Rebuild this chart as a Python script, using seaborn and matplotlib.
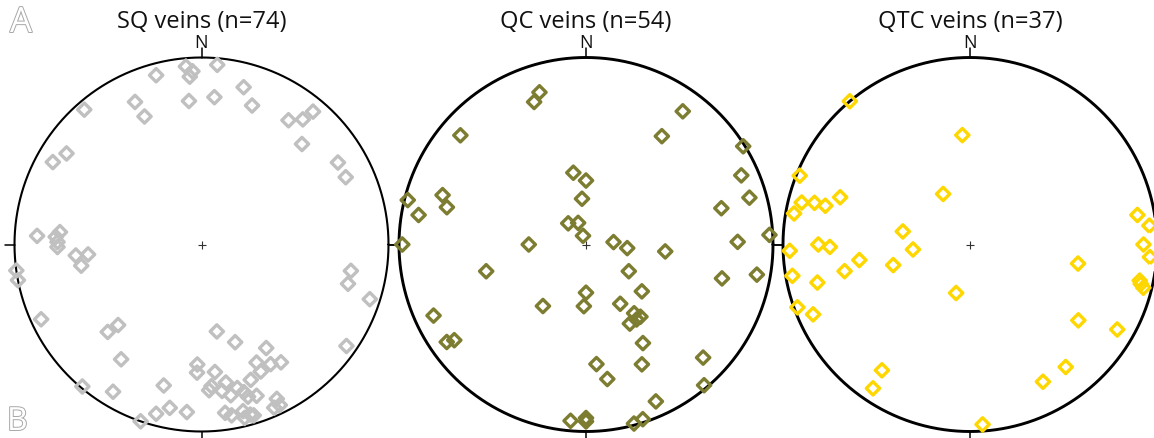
import numpy as np
import pandas as pd
import matplotlib
matplotlib.use("Agg")
import matplotlib.pyplot as plt
import matplotlib.patheffects as pe
import seaborn as sns

sns.set_theme(style="white")
plt.rcParams["font.family"] = ["Open Sans", "DejaVu Sans"]

# Poles to veins: trend (deg, clockwise from N) and plunge (deg), lower hemisphere
sq_trend = [345, 355, 357, 356, 5, 15, 5, 355, 335, 336,
            20, 319, 35, 39, 40, 45, 304, 299, 59, 65,
            273, 275, 273, 271, 269, 265, 265, 260, 262, 259,
            100, 105, 108, 245, 227, 226, 170, 161, 148, 125,
            215, 182, 182, 174, 155, 150, 146, 155, 220, 211,
            195, 191, 195, 199, 185, 160, 170, 176, 177, 166,
            172, 169, 164, 163, 160, 154, 154, 156, 172, 170,
            166, 164, 166, 163]
sq_plunge = [7, 5, 8, 11, 4, 14, 22, 24, 17, 26,
             22, 5, 20, 15, 8, 25, 14, 10, 16, 16,
             13, 25, 23, 24, 24, 33, 39, 35, 0, 0,
             20, 20, 6, 6, 32, 38, 51, 44, 35, 6,
             26, 36, 32, 32, 31, 27, 25, 26, 1, 9,
             23, 12, 7, 0, 11, 24, 26, 25, 23, 22,
             22, 19, 19, 16, 15, 9, 5, 5, 10, 8,
             9, 6, 5, 5]

qc_trend = [343, 340, 311, 36, 35, 58, 66, 74, 75, 350,
            0, 355, 284, 289, 285, 280, 320, 340, 341, 85,
            95, 95, 270, 270, 89, 87, 255, 122, 104, 100,
            180, 130, 215, 182, 150, 145, 143, 151, 146, 245,
            235, 234, 150, 134, 175, 171, 155, 140, 156, 185,
            180, 180, 165, 162]
qc_plunge = [16, 20, 12, 13, 30, 1, 10, 10, 26, 58,
             62, 70, 2, 20, 24, 10, 78, 80, 86, 78,
             72, 55, 2, 65, 20, 2, 44, 68, 26, 8,
             69, 58, 57, 63, 60, 53, 50, 50, 50, 11,
             10, 14, 39, 14, 36, 28, 30, 2, 9, 6,
             8, 6, 1, 2]

qtc_trend = [320, 356, 292, 332, 290, 284, 285, 285, 280, 80,
             84, 90, 94, 102, 104, 281, 268, 270, 269, 262,
             265, 258, 255, 260, 256, 196, 250, 246, 100, 125,
             120, 142, 152, 215, 214, 176, 103]
qtc_plunge = [0, 41, 2, 65, 27, 8, 15, 21, 5, 10,
              4, 8, 4, 8, 5, 60, 4, 20, 26, 40,
              65, 32, 55, 4, 17, 68, 2, 9, 41, 30,
              10, 18, 18, 19, 8, 4, 7]

vein_sets = ["SQ veins", "QC veins", "QTC veins"]
set_colors = ["#c0c0c0", "#7d7d32", "#ffd700"]
circle_widths = [1.5, 2.1, 2.1]


def equal_area(trend, plunge):
    """Lambert (Schmidt) lower-hemisphere projection, unit primitive circle."""
    t = np.radians(np.asarray(trend, float))
    p = np.radians(np.asarray(plunge, float))
    r = np.sqrt(2.0) * np.sin((np.pi / 2 - p) / 2)
    return r * np.sin(t), r * np.cos(t)


W, H = 1154, 439
fig = plt.figure(figsize=(W / 100, H / 100), dpi=100)
R = 187
cy = 245.5
centers = [201.5, 586, 970]

data = [(sq_trend, sq_plunge), (qc_trend, qc_plunge), (qtc_trend, qtc_plunge)]
theta = np.linspace(0, 2 * np.pi, 721)

for cx, name, (tr, pl), color, lw in zip(centers, vein_sets, data,
                                         set_colors, circle_widths):
    ax = fig.add_axes([(cx - R) / W, (H - cy - R) / H, 2 * R / W, 2 * R / H])

    # primitive circle, cardinal ticks and centre cross
    ax.plot(np.cos(theta), np.sin(theta), color="black", lw=lw,
            zorder=2, clip_on=False)
    tick = 0.05
    for dx, dy in [(0, 1), (0, -1), (1, 0), (-1, 0)]:
        ax.plot([dx, dx * (1 + tick)], [dy, dy * (1 + tick)],
                color="black", lw=1.1, clip_on=False, zorder=2)
    ax.plot([0], [0], marker="+", ms=6, mew=0.8, color="#333333", zorder=2)

    x, y = equal_area(tr, pl)
    df = pd.DataFrame({"east": x, "north": y})
    sns.scatterplot(data=df, x="east", y="north", ax=ax, marker="D", s=46,
                    facecolor="none", edgecolor=color, linewidth=2.4,
                    clip_on=False, zorder=3, legend=False)

    ax.text(0, 1.056, "N", ha="center", va="baseline", fontsize=13,
            color="#111111")
    ax.text(0, 1.161, f"{name} (n={len(tr)})", ha="center", va="baseline",
            fontsize=17, color="#111111")

    ax.set_xlim(-1, 1)
    ax.set_ylim(-1, 1)
    ax.set_aspect("equal")
    ax.set_axis_off()

# hollow panel letters
outline = [pe.withStroke(linewidth=1.4, foreground="#a8a8a8")]
fig.text(10 / W, 1 - 33 / H, "A", ha="left", va="baseline", fontsize=25,
         color="white", path_effects=outline)
fig.text(7 / W, 8 / H, "B", ha="left", va="baseline", fontsize=23,
         color="white", path_effects=outline)

fig.savefig("out.png", dpi=100)
